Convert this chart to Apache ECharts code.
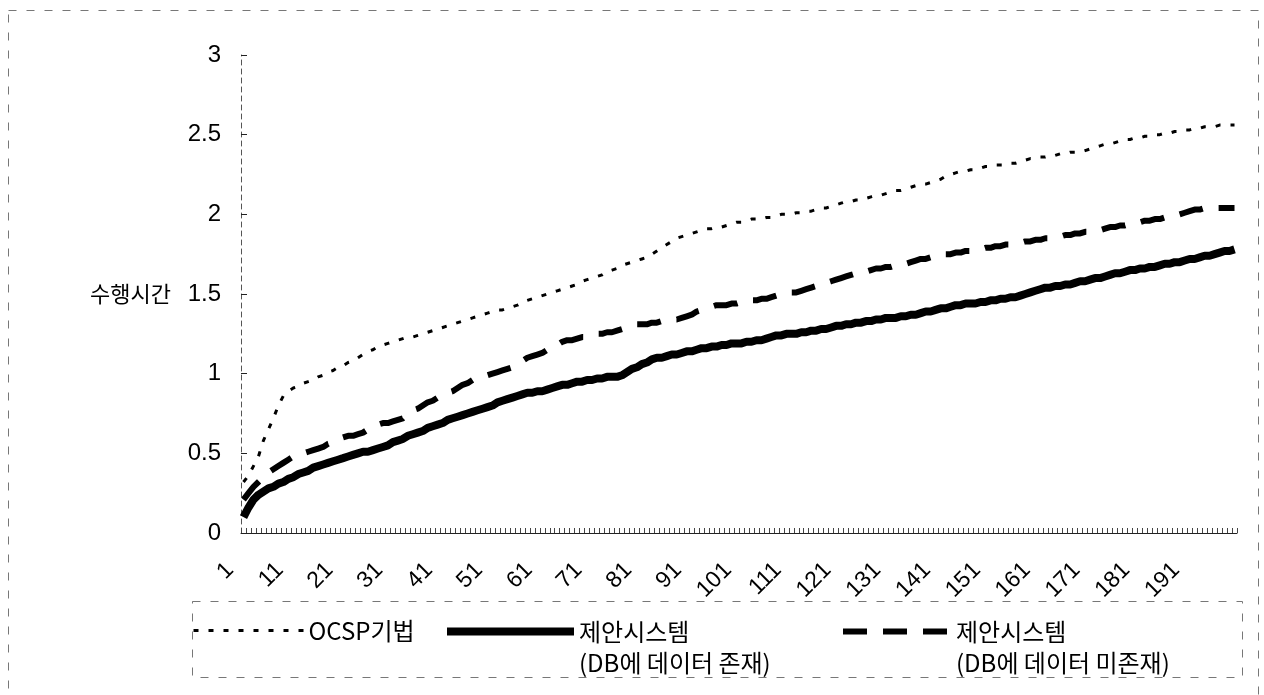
<!DOCTYPE html>
<html>
<head>
<meta charset="utf-8">
<script src="https://cdn.jsdelivr.net/npm/echarts@6/dist/echarts.min.js"></script>
<style>
html,body{margin:0;padding:0;background:#fff;}
#chart{width:1264px;height:695px;}
</style>
</head>
<body>
<div id="chart"></div>
<script>
// ---- data ----
var categories = [];
for (var k = 1; k <= 200; k++) categories.push(String(k));

var yTicks = [0, 0.5, 1, 1.5, 2, 2.5, 3];

var seriesNames = ['OCSP기법', '제안시스템\n(DB에 데이터 존재)', '제안시스템\n(DB에 데이터 미존재)'];

var ocsp = [
0.32,0.36,0.42,0.48,0.58,0.65,0.72,0.80,0.86,0.89,
0.91,0.92,0.94,0.95,0.96,0.98,0.99,1.01,1.02,1.04,
1.05,1.07,1.08,1.10,1.12,1.14,1.15,1.17,1.18,1.19,
1.20,1.21,1.22,1.23,1.23,1.24,1.25,1.26,1.27,1.28,
1.29,1.30,1.31,1.32,1.33,1.34,1.35,1.36,1.37,1.38,
1.39,1.40,1.40,1.41,1.42,1.43,1.45,1.46,1.47,1.48,
1.49,1.50,1.51,1.52,1.53,1.54,1.55,1.56,1.58,1.59,
1.60,1.61,1.62,1.64,1.65,1.66,1.68,1.69,1.70,1.71,
1.72,1.73,1.75,1.77,1.79,1.81,1.83,1.85,1.86,1.87,
1.88,1.89,1.90,1.91,1.91,1.92,1.92,1.93,1.94,1.95,
1.95,1.96,1.97,1.97,1.97,1.98,1.98,1.99,2.00,2.00,
2.00,2.01,2.01,2.02,2.02,2.03,2.04,2.04,2.05,2.06,
2.07,2.08,2.08,2.09,2.09,2.10,2.11,2.12,2.12,2.13,
2.14,2.15,2.15,2.16,2.17,2.18,2.19,2.19,2.20,2.21,
2.22,2.24,2.25,2.26,2.27,2.27,2.28,2.28,2.29,2.30,
2.30,2.31,2.31,2.31,2.32,2.32,2.33,2.34,2.35,2.35,
2.36,2.36,2.37,2.37,2.38,2.38,2.39,2.39,2.39,2.40,
2.41,2.42,2.43,2.44,2.44,2.45,2.46,2.47,2.47,2.48,
2.48,2.49,2.49,2.50,2.50,2.51,2.51,2.52,2.52,2.53,
2.53,2.54,2.54,2.55,2.55,2.55,2.56,2.56,2.56,2.56
];

var withData = [
0.10,0.16,0.21,0.24,0.26,0.28,0.29,0.31,0.32,0.34,
0.35,0.37,0.38,0.39,0.41,0.42,0.43,0.44,0.45,0.46,
0.47,0.48,0.49,0.50,0.51,0.51,0.52,0.53,0.54,0.55,
0.57,0.58,0.59,0.61,0.62,0.63,0.64,0.66,0.67,0.68,
0.69,0.71,0.72,0.73,0.74,0.75,0.76,0.77,0.78,0.79,
0.80,0.82,0.83,0.84,0.85,0.86,0.87,0.88,0.88,0.89,
0.89,0.90,0.91,0.92,0.93,0.93,0.94,0.95,0.95,0.96,
0.96,0.97,0.97,0.98,0.98,0.98,0.99,1.01,1.03,1.04,
1.06,1.07,1.09,1.10,1.10,1.11,1.12,1.12,1.13,1.14,
1.14,1.15,1.16,1.16,1.17,1.17,1.18,1.18,1.19,1.19,
1.19,1.20,1.20,1.21,1.21,1.22,1.23,1.24,1.24,1.25,
1.25,1.25,1.26,1.26,1.27,1.27,1.28,1.28,1.29,1.30,
1.30,1.31,1.31,1.32,1.32,1.33,1.33,1.34,1.34,1.35,
1.35,1.35,1.36,1.36,1.37,1.37,1.38,1.39,1.39,1.40,
1.41,1.41,1.42,1.43,1.43,1.44,1.44,1.44,1.45,1.45,
1.46,1.46,1.47,1.47,1.48,1.48,1.49,1.50,1.51,1.52,
1.53,1.54,1.54,1.55,1.55,1.56,1.56,1.57,1.58,1.58,
1.59,1.60,1.60,1.61,1.62,1.63,1.63,1.64,1.65,1.65,
1.66,1.66,1.67,1.67,1.68,1.69,1.69,1.70,1.70,1.71,
1.72,1.72,1.73,1.74,1.74,1.75,1.76,1.77,1.77,1.78
];

var withoutData = [
0.21,0.25,0.29,0.32,0.35,0.38,0.40,0.42,0.44,0.46,
0.48,0.49,0.50,0.51,0.52,0.53,0.54,0.56,0.57,0.59,
0.60,0.61,0.61,0.62,0.63,0.65,0.67,0.68,0.69,0.69,
0.70,0.71,0.72,0.75,0.77,0.78,0.80,0.82,0.83,0.85,
0.87,0.88,0.89,0.91,0.93,0.94,0.96,0.97,0.98,0.99,
1.00,1.01,1.02,1.03,1.04,1.06,1.08,1.10,1.11,1.12,
1.13,1.15,1.16,1.18,1.20,1.21,1.21,1.22,1.23,1.23,
1.24,1.25,1.25,1.26,1.26,1.27,1.28,1.29,1.30,1.31,
1.31,1.31,1.32,1.32,1.33,1.33,1.34,1.34,1.35,1.36,
1.37,1.39,1.40,1.41,1.42,1.43,1.43,1.43,1.44,1.44,
1.45,1.45,1.46,1.46,1.47,1.47,1.48,1.49,1.50,1.50,
1.51,1.51,1.52,1.53,1.54,1.55,1.56,1.57,1.58,1.59,
1.60,1.61,1.62,1.63,1.63,1.64,1.65,1.66,1.66,1.67,
1.67,1.68,1.69,1.69,1.70,1.71,1.72,1.72,1.73,1.73,
1.74,1.75,1.75,1.76,1.76,1.77,1.77,1.78,1.78,1.79,
1.79,1.80,1.80,1.81,1.81,1.82,1.82,1.83,1.83,1.84,
1.84,1.85,1.85,1.86,1.86,1.87,1.87,1.88,1.88,1.89,
1.89,1.90,1.90,1.91,1.92,1.92,1.93,1.93,1.94,1.95,
1.95,1.96,1.96,1.97,1.97,1.98,1.99,1.99,2.00,2.01,
2.02,2.03,2.03,2.04,2.04,2.04,2.04,2.04,2.04,2.04
];

// ---- chart ----
var chart = echarts.init(document.getElementById('chart'), null, {renderer: 'canvas'});
var latin = 'Liberation Sans, Arial, sans-serif';
var kr = 'Noto Sans CJK KR, sans-serif';

var legendTextStyle = {color: '#000', fontFamily: kr, fontSize: 24, lineHeight: 31};
var legendCommon = {
  orient: 'horizontal', itemHeight: 14, itemGap: 0, selectedMode: false,
  itemStyle: {opacity: 0, borderWidth: 0},
  textStyle: legendTextStyle,
  formatter: function (n) { return n.indexOf('\n') >= 0 ? ' \n' + n : n; }
};

var option = {
  backgroundColor: '#fff',
  animation: false,
  grid: {left: 241, right: 27, top: 55, bottom: 162, containLabel: false},
  xAxis: {
    type: 'category',
    data: categories,
    boundaryGap: true,
    axisLine: {lineStyle: {color: '#222', width: 1}},
    axisTick: {show: true, inside: true, interval: 0, length: 5, lineStyle: {color: '#444', width: 1}},
    axisLabel: {
      interval: 9, rotate: 45, margin: 20,
      formatter: function (v) { return v + '\u00a0\u00a0\u00a0'; },
      color: '#000', fontFamily: latin, fontSize: 23
    },
    splitLine: {show: false}
  },
  yAxis: {
    type: 'value',
    min: 0, max: 3, interval: 0.5,
    name: '수행시간',
    nameLocation: 'middle',
    nameRotate: 0,
    nameGap: 70,
    nameTextStyle: {color: '#000', fontFamily: kr, fontSize: 22},
    axisLine: {show: true, lineStyle: {color: '#555', width: 1, type: [5, 4]}},
    axisTick: {show: true, inside: true, length: 6, lineStyle: {color: '#222'}},
    axisLabel: {
      margin: 20, color: '#000', fontFamily: latin, fontSize: 24,
      formatter: function (v) { return yTicks.indexOf(v) >= 0 ? String(v) : ''; }
    },
    splitLine: {show: false}
  },
  legend: [
    Object.assign({}, legendCommon, {
      data: [seriesNames[0]], left: 187, top: 610, itemWidth: 110,
      lineStyle: {width: 3}
    }),
    Object.assign({}, legendCommon, {
      data: [seriesNames[1]], left: 438, top: 580, itemWidth: 127,
      lineStyle: {width: 8}
    }),
    Object.assign({}, legendCommon, {
      data: [seriesNames[2]], left: 835, top: 580, itemWidth: 108,
      lineStyle: {width: 6}
    })
  ],
  graphic: [
    {type: 'rect', silent: true, z: -1,
     shape: {x: 8.5, y: 10.5, width: 1250, height: 700},
     style: {fill: 'none', stroke: '#777', lineWidth: 1, lineDash: [8, 10]}},
    {type: 'rect', silent: true, z: -1,
     shape: {x: 192.5, y: 601.5, width: 1050, height: 76},
     style: {fill: 'none', stroke: '#777', lineWidth: 1, lineDash: [8, 10]}}
  ],
  series: [
    {
      name: seriesNames[0], type: 'line', data: ocsp,
      symbol: 'none', smooth: false,
      lineStyle: {color: '#000', width: 3, type: [5, 10]},
      itemStyle: {color: '#000'}
    },
    {
      name: seriesNames[1], type: 'line', data: withData,
      symbol: 'none', smooth: false,
      lineStyle: {color: '#000', width: 8, type: 'solid'},
      itemStyle: {color: '#000'}
    },
    {
      name: seriesNames[2], type: 'line', data: withoutData,
      symbol: 'none', smooth: false,
      lineStyle: {color: '#000', width: 6, type: [24, 16]},
      itemStyle: {color: '#000'}
    }
  ]
};
chart.setOption(option);
</script>
</body>
</html>
